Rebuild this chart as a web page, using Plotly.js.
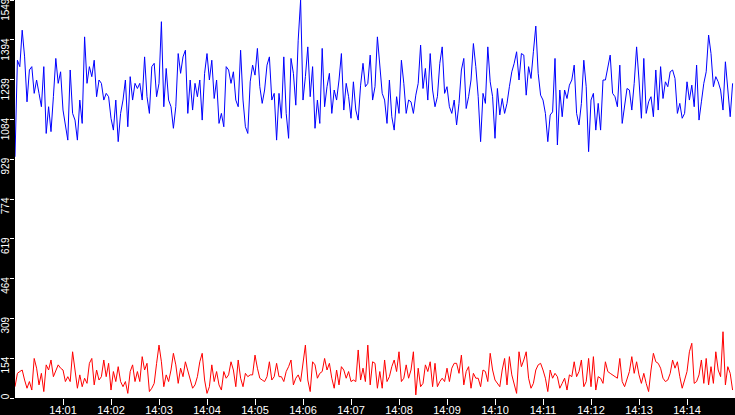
<!DOCTYPE html>
<html>
<head>
<meta charset="utf-8">
<script src="https://cdn.plot.ly/plotly-3.0.1.min.js"></script>
<style>
  html, body { margin: 0; padding: 0; background: #000; }
  #chart { width: 735px; height: 415px; }
</style>
</head>
<body>
<div id="chart"></div>
<script>
// samples every 3 seconds from 14:00:00
var startTime = '2020-01-01 14:00:00'
var endTime = '2020-01-01 14:15:00'
var stepSeconds = 3

var blueValues = [
  939,1315,1290,1432,1328,1153,1277,1290,1186,1238,
  1186,1134,1290,1030,1134,1037,1173,1322,1225,1270,
  1121,1056,1004,1277,1108,1082,1004,1160,1069,1406,
  1225,1290,1251,1315,1173,1238,1225,1160,1186,1173,
  1089,1043,1160,998,1108,1160,1238,1056,1251,1160,
  1225,1205,1225,1160,1328,1173,1108,1290,1303,1173,
  1225,1465,1134,1283,1160,1134,1050,1134,1341,1264,
  1328,1354,1108,1238,1121,1225,1173,1238,1082,1264,
  1341,1238,1315,1166,1238,1069,1108,1056,1290,1277,
  1225,1270,1160,1134,1354,1160,1056,1030,1231,1296,
  1257,1361,1212,1147,1199,1296,1328,1160,1186,1004,
  1186,1089,1328,1108,1011,1322,1264,1140,1393,1549,
  1160,1251,1367,1173,1290,1050,1160,1069,1361,1134,
  1212,1264,1108,1199,1160,1238,1341,1121,1225,1173,
  1089,1231,1121,1082,1218,1303,1212,1225,1335,1160,
  1212,1406,1277,1186,1160,1069,1238,1095,1043,1173,
  1108,1315,1225,1108,1160,1153,1108,1179,1225,1374,
  1205,1283,1160,1341,1199,1134,1173,1303,1367,1186,
  1212,1134,1108,1160,1063,1147,1277,1322,1127,1173,
  1238,1380,1290,1173,998,1186,1147,1367,1231,1173,
  1011,1205,1102,1166,1108,1147,1212,1270,1303,1348,
  1238,1341,1335,1179,1290,1244,1348,1448,1264,1179,
  1160,1108,998,1102,1114,1322,985,1199,1095,1199,
  1166,1218,1238,1296,1108,1063,1147,1315,1212,959,
  1160,1186,1043,1147,1043,1238,1238,1290,1335,1186,
  1173,1134,1296,1069,1147,1205,1199,1121,1225,1367,
  1238,1089,1322,1108,1153,1173,1095,1277,1121,1290,
  1166,1231,1212,1270,1277,1244,1108,1147,1089,1108,
  1231,1160,1218,1134,1296,1082,1153,1225,1270,1413,
  1341,1212,1251,1231,1199,1121,1309,1186,1095,1225
]

var redValues = [
  44,96,103,109,70,38,64,31,154,116,
  51,96,25,129,109,148,83,109,129,116,
  109,64,83,64,180,109,38,90,44,77,
  57,135,154,51,109,70,83,148,83,135,
  31,103,64,122,64,44,64,18,103,129,
  64,103,64,161,109,135,25,38,57,135,
  206,141,44,90,64,109,174,129,57,116,
  83,141,109,70,38,
  51,83,141,174,70,18,44,129,64,103,
  51,31,103,77,90,141,109,44,148,77,
  44,96,83,90,90,167,116,77,70,64,
  83,141,70,83,135,83,83,64,103,122,
  148,51,77,90,64,135,206,70,25,141,
  129,77,96,103,154,109,135,77,38,109,
  51,122,109,77,103,64,70,64,187,70,
  116,64,206,51,141,
  135,38,103,38,148,64,83,122,148,103,
  180,64,77,129,77,109,180,12,116,44,
  57,129,103,141,44,135,44,64,77,64,
  116,64,116,135,135,96,167,51,103,122,
  38,96,77,77,44,109,103,64,174,109,
  70,57,44,109,154,51,161,90,51,18,
  180,122,148,180,77,38,57,109,129,135,
  109,77,25,109,77,
  96,83,38,57,77,31,90,83,141,83,
  103,148,44,64,154,44,161,31,83,77,
  57,141,103,96,90,83,77,154,64,44,
  77,103,161,96,141,90,57,96,57,25,
  109,174,141,135,116,77,64,70,96,148,
  116,141,83,38,70,103,180,213,57,64,
  90,148,57,154,51,122,57,180,109,83,
  258,51,122,96,31
]

var xTickText = ['14:01','14:02','14:03','14:04','14:05','14:06','14:07',
                 '14:08','14:09','14:10','14:11','14:12','14:13','14:14']
var yTickText = ['0','154','309','464','619','774','929','1084','1239','1394','1549']
var yMax = 1549

function pad2(n) {
  return (n < 10 ? '0' : '') + n
}

// time stamps for the samples
function getTimeArray(start, count, step) {
  var arr = []
  var t0 = new Date(start.replace(' ', 'T')).getTime()
  for (var i = 0; i < count; i++) {
    var d = new Date(t0 + i * step * 1000)
    arr.push('2020-01-01 ' + pad2(d.getHours()) + ':' + pad2(d.getMinutes()) + ':' + pad2(d.getSeconds()))
  }
  return arr
}

// rotated labels hang below their tick: pad the end with no-break spaces
function hangLabel(txt) {
  if (txt.length < 2) return txt
  return txt + '\u00a0'.repeat(txt.length * 2)
}

var times = getTimeArray(startTime, blueValues.length, stepSeconds)

var xTickVals = xTickText.map(function (t) { return '2020-01-01 ' + t + ':00' })
var yTickVals = yTickText.map(function (t, i) { return i * yMax / (yTickText.length - 1) })

var data = [{
  x: times,
  y: blueValues,
  type: 'scatter',
  mode: 'lines',
  line: {color: '#0000ff', width: 1},
  hoverinfo: 'none'
},
{
  x: times,
  y: redValues,
  type: 'scatter',
  mode: 'lines',
  line: {color: '#ff0000', width: 1},
  hoverinfo: 'none'
}]

var layout = {
  width: 735,
  height: 415,
  margin: {l: 15, r: 0, t: 0, b: 17, pad: 0},
  paper_bgcolor: '#000000',
  plot_bgcolor: '#ffffff',
  showlegend: false,
  font: {family: 'Liberation Sans, Arial, sans-serif', size: 11, color: '#ffffff'},
  xaxis: {
    type: 'date',
    range: [startTime, endTime],
    tickmode: 'array',
    tickvals: xTickVals,
    ticktext: xTickText,
    ticks: 'outside',
    ticklen: 6,
    tickwidth: 1,
    tickcolor: '#ffffff',
    ticklabelstandoff: -4,
    showgrid: false,
    zeroline: false,
    showline: false,
    fixedrange: true
  },
  yaxis: {
    range: [0, yMax + 0.5],
    tickmode: 'array',
    tickvals: yTickVals,
    ticktext: yTickText.map(hangLabel),
    tickangle: -90,
    ticklabeloverflow: 'allow',
    ticklabelstandoff: -3,
    tickfont: {size: 10},
    ticks: 'outside',
    ticklen: 4,
    tickwidth: 1,
    tickcolor: '#ffffff',
    showgrid: false,
    zeroline: false,
    showline: false,
    fixedrange: true
  }
}

Plotly.newPlot('chart', data, layout, {displayModeBar: false, staticPlot: true})
</script>
</body>
</html>
